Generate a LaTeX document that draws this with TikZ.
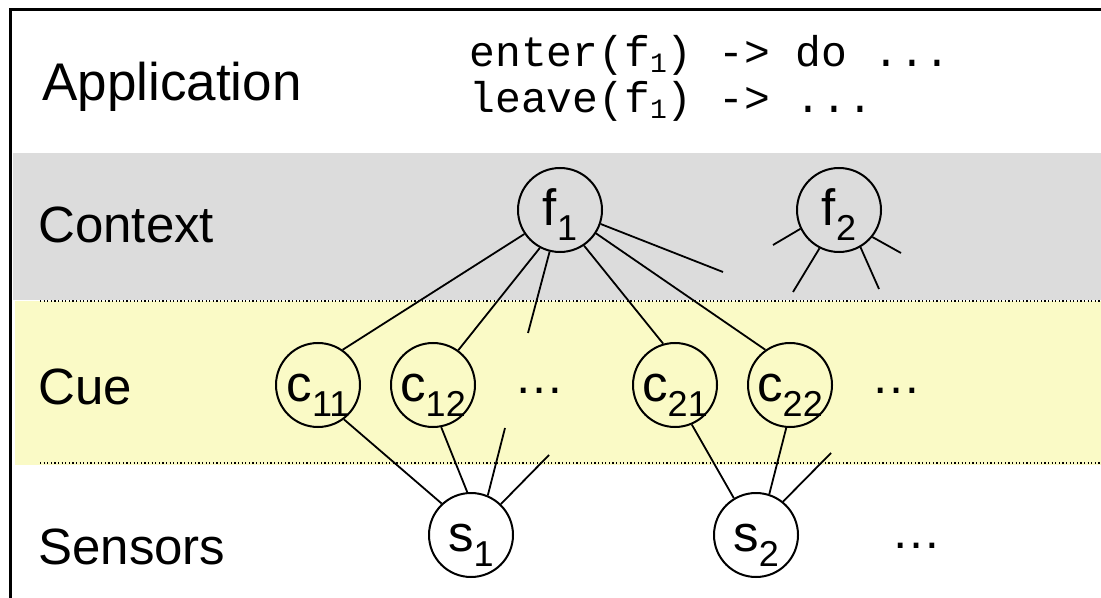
\documentclass[tikz,border=0pt]{standalone}
\usepackage{fontspec}
\setmainfont{Liberation Sans}
\setmonofont{Liberation Mono}
\definecolor{ctxgray}{HTML}{DCDCDC}
\definecolor{cueyellow}{HTML}{FAFAC6}
\newcommand\ssub[1]{\raisebox{-7.5pt}{\fontsize{18}{18}\selectfont #1}}
\newcommand\csub[1]{\raisebox{-3pt}{\fontsize{14}{14}\selectfont #1}}

\begin{document}
\begin{tikzpicture}[x=0.5pt,y=-0.5pt,
  layer/.style={anchor=base west,inner sep=0pt,font=\fontsize{25.5}{25.5}\selectfont},
  code/.style={anchor=base west,inner sep=0pt,font=\ttfamily\fontsize{21.5}{21.5}\selectfont},
  var/.style={circle,draw,line width=1pt,minimum size=42pt,inner sep=0pt,
    font=\fontsize{25.5}{25.5}\selectfont,text height=20pt,text depth=4pt},
  more/.style={font=\fontsize{25}{25}\selectfont},
  link/.style={line width=0.9pt},
  sep/.style={line width=0.7pt,dash pattern=on 0.6pt off 1.2pt}]
  \useasboundingbox (0,0) rectangle (1101,598);
  \fill[ctxgray] (13,153) rectangle (1101,300);
  \fill[cueyellow] (15,301) rectangle (1101,465);
  \draw[sep] (40,301) -- (1101,301);
  \draw[sep] (40,463) -- (1101,463);
  \draw[line width=1.3pt] (1101,9.5) -- (10.5,9.5) -- (10.5,598);

  \node[layer,font=\fontsize{26.5}{26.5}\selectfont] (app) at (42,101) {Application};
  \node[layer] (ctx) at (38,243) {Context};
  \node[layer] (cue) at (38,404) {Cue};
  \node[layer] (sen) at (38,564) {Sensors};

  \node[code] (enter) at (469,67) {enter(f\csub{1}) -> do ...};
  \node[code] (leave) at (469,113) {leave(f\csub{1}) -> ...};

  \node[var] (f1) at (560,210) {f\ssub{1}};
  \node[var] (f2) at (839,210) {f\ssub{2}};
  \node[var] (c11) at (318,385) {c\ssub{11}};
  \node[var] (c12) at (433,385) {c\ssub{12}};
  \node[var] (c21) at (675,385) {c\ssub{21}};
  \node[var] (c22) at (790,385) {c\ssub{22}};
  \node[var] (s1) at (471,535) {s\ssub{1}};
  \node[var] (s2) at (756,535) {s\ssub{2}};
  \node[more] (cdots1) at (539,391) {…};
  \node[more] (cdots2) at (896,391) {…};
  \node[more] (sdots) at (916,546) {…};

  \coordinate (f1d) at (528,333);
  \coordinate (f1r) at (723,272);
  \coordinate (f2a) at (773,245);
  \coordinate (f2b) at (793,292);
  \coordinate (f2c) at (879,289);
  \coordinate (f2d) at (901,253);
  \coordinate (s1a) at (505,428);
  \coordinate (s1b) at (549,455);
  \coordinate (s2a) at (831,453);

  \draw[link] (f1.214) -- (c11.55);
  \draw[link] (f1.242) -- (c12.54);
  \draw[link] (f1.256) -- (f1d);
  \draw[link] (f1.304) -- (c21.106);
  \draw[link] (f1.327) -- (c22.125);
  \draw[link] (f1.341) -- (f1r);
  \draw[link] (f2.206) -- (f2a);
  \draw[link] (f2.243) -- (f2b);
  \draw[link] (f2.300) -- (f2c);
  \draw[link] (f2.321) -- (f2d);
  \draw[link] (c11.307) -- (s1.133);
  \draw[link] (c12.281) -- (s1.95);
  \draw[link] (s1a) -- (s1.67);
  \draw[link] (s1b) -- (s1.46);
  \draw[link] (c21.293) -- (s2.121);
  \draw[link] (c22.265) -- (s2.72);
  \draw[link] (s2a) -- (s2.51);
\end{tikzpicture}
\end{document}
